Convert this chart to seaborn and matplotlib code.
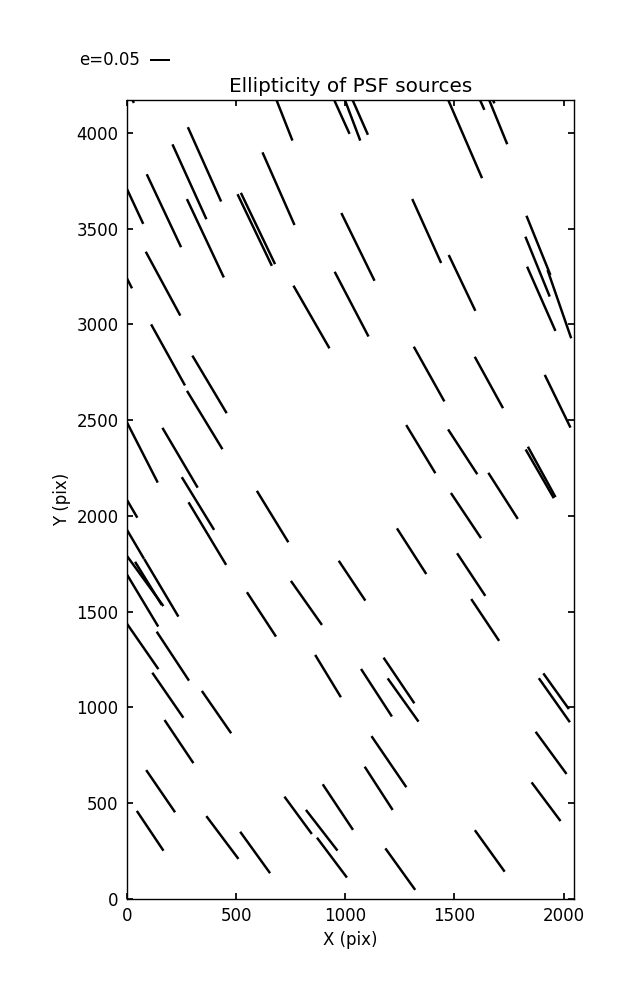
import numpy as np
import matplotlib
matplotlib.use("Agg")
import matplotlib.pyplot as plt
import seaborn as sns

# PSF star positions on the detector (pix), ellipticity and angle (deg)
x_pix = [355, 286, 169, -3, 359, 585, 600, 694, 165, 845,
         1029, 1058, -56, 1373, 1535, 1885, 1981, 1881, 1898, 188,
         378, 356, 70, 243, 325, 368, 667, -22, 1384, 1658,
         1973, 1346, 1538, 1891, 1900, 1723, 1553, 0, 157, 79,
         98, 70, 71, 210, 187, 410, 616, 822, 921, 1031,
         1304, 1577, 1641, 1143, 1246, 1265, 1958, 1966, 238, 154,
         106, 437, 587, 784, 892, 939, 966, 1200, 1153, 1252,
         1662, 1943, 1920, 691, 944, 1004, 1030, 1545, 1563, 1673,
         1609, -43]
y_pix = [3836, 3745, 3594, 3714, 3450, 3493, 3501, 3709, 3213, 3039,
         3106, 3405, 3365, 3488, 3217, 3413, 3106, 3302, 3134, 2841,
         2687, 2501, 2332, 2304, 2065, 1908, 1997, 2126, 2741, 2697,
         2599, 2349, 2335, 2220, 2230, 2105, 2002, 1927, 1625, 1667,
         1648, 1561, 1320, 1268, 1064, 976, 1486, 1546, 1164, 1662,
         1816, 1694, 1457, 1077, 1141, 1039, 1038, 1085, 822, 563,
         356, 321, 243, 437, 359, 216, 480, 717, 578, 156,
         251, 763, 508, 4154, 4185, 4155, 4181, 3979, 4311, 4134,
         4345, 4347]
ell = [0.204, 0.206, 0.202, 0.200, 0.217, 0.199, 0.198, 0.199, 0.182, 0.181,
       0.183, 0.189, 0.190, 0.176, 0.155, 0.160, 0.181, 0.162, 0.176, 0.175,
       0.168, 0.171, 0.170, 0.174, 0.155, 0.183, 0.151, 0.150, 0.157, 0.147,
       0.147, 0.141, 0.134, 0.141, 0.144, 0.137, 0.136, 0.168, 0.168, 0.163,
       0.127, 0.155, 0.140, 0.147, 0.137, 0.129, 0.133, 0.135, 0.124, 0.120,
       0.136, 0.128, 0.126, 0.142, 0.138, 0.133, 0.135, 0.110, 0.130, 0.128,
       0.120, 0.134, 0.128, 0.116, 0.129, 0.125, 0.137, 0.155, 0.129, 0.128,
       0.128, 0.131, 0.121, 0.200, 0.200, 0.200, 0.200, 0.225, 0.200, 0.200,
       0.200, 0.200]
angle = [-65.9, -65.6, -64.8, -65.0, -64.8, -64.4, -64.4, -66.2, -61.6, -60.1,
         -62.4, -63.9, -63.0, -65.7, -64.5, -68.0, -70.9, -67.9, -66.2, -61.0,
         -59.2, -58.7, -62.9, -59.5, -58.5, -59.0, -58.5, -59.7, -60.8, -61.2,
         -64.0, -58.8, -56.9, -60.0, -61.3, -57.4, -56.3, -59.5, -59.3, -54.0,
         -58.3, -59.0, -55.3, -56.6, -55.4, -55.3, -56.8, -54.8, -58.7, -56.3,
         -57.3, -56.5, -56.3, -57.0, -56.0, -54.5, -54.8, -54.4, -56.2, -55.6,
         -56.2, -53.1, -54.2, -53.7, -52.2, -53.1, -56.4, -55.7, -57.1, -54.3,
         -54.3, -53.8, -53.2, -68.5, -65.6, -69.3, -66.2, -66.6, -66.0, -67.8,
         -66.0, -66.0]

key_e = 0.05
x_ticks = [0, 500, 1000, 1500, 2000]
y_ticks = [0, 500, 1000, 1500, 2000, 2500, 3000, 3500, 4000]

sns.set_theme(style="ticks", rc={
    "xtick.direction": "in", "ytick.direction": "in",
    "xtick.top": True, "ytick.right": True,
    "xtick.major.size": 4, "ytick.major.size": 4,
    "xtick.major.pad": 6, "ytick.major.pad": 6,
    "axes.edgecolor": "black", "axes.linewidth": 1.0,
    "font.size": 12, "axes.labelsize": 12, "axes.titlesize": 14.4,
    "xtick.labelsize": 12, "ytick.labelsize": 12,
    "text.color": "black", "axes.labelcolor": "black",
    "xtick.color": "black", "ytick.color": "black",
})
plt.rcParams["font.family"] = ["DejaVu Sans"]

fig = plt.figure(figsize=(6.37, 10), dpi=100)
ax = fig.add_axes([0.1994, 0.101, 0.7017, 0.799])

theta = np.radians(angle)
u = np.array(ell) * np.cos(theta)
v = np.array(ell) * np.sin(theta)

q = ax.quiver(x_pix, y_pix, u, v, pivot="middle", color="black",
              headwidth=0, headlength=0, headaxislength=0,
              scale=1.12, scale_units="width", width=0.0055)
ax.quiverkey(q, 0.236, 0.94, key_e, "e=%.2f" % key_e, labelpos="W",
             coordinates="figure", labelsep=0.1, fontproperties={"size": 12})

ax.set_xlim(0, 2048)
ax.set_ylim(0, 4172)
ax.set_xticks(x_ticks)
ax.set_yticks(y_ticks)
ax.set_xlabel("X (pix)")
ax.set_ylabel("Y (pix)")
ax.set_title("Ellipticity of PSF sources", pad=6)

fig.savefig("out.png", dpi=100, facecolor="white")
